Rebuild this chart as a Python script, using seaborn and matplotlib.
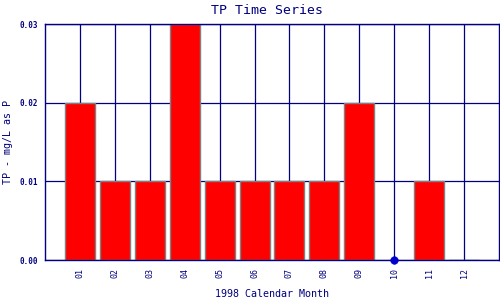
import numpy as np
import pandas as pd
import matplotlib
matplotlib.use("Agg")
import matplotlib.pyplot as plt
import seaborn as sns

months = ["01", "02", "03", "04", "05", "06", "07", "08", "09", "10", "11", "12"]
tp_values = [0.02, 0.01, 0.01, 0.03, 0.01, 0.01, 0.01, 0.01, 0.02, np.nan, 0.01, 0.0]
y_ticks = [0.00, 0.01, 0.02, 0.03]
y_tick_labels = ["0.00", "0.01", "0.02", "0.03"]

navy = "#000080"
sns.set_theme(style="white")
plt.rcParams["font.family"] = ["DejaVu Sans Mono", "DejaVu Sans"]

df = pd.DataFrame({"month": months, "tp": tp_values})

fig = plt.figure(figsize=(5, 3), dpi=100)
ax = fig.add_axes([0.09, 0.1333, 0.908, 0.7867])

for i in range(len(months)):
    ax.axvline(i, color=navy, lw=0.9, zorder=0)
for y in y_ticks:
    ax.axhline(y, color=navy, lw=0.9, zorder=0)

sns.barplot(data=df, x="month", y="tp", order=months, color="#ff0000",
            saturation=1, width=0.857, edgecolor="#808080", linewidth=1.0,
            errorbar=None, ax=ax, zorder=2)

missing = df[df["tp"].isna()].copy()
missing["zero"] = 0.0
sns.scatterplot(data=missing, x="month", y="zero", color="#0000cc", s=30,
                edgecolor="#0000cc", ax=ax, zorder=5, clip_on=False)

ax.set_xlim(-1, 12)
ax.set_ylim(0, 0.03)
ax.set_yticks(y_ticks)
ax.set_yticklabels(y_tick_labels, fontsize=5.5, color=navy, fontweight="bold")
ax.set_xticks(range(len(months)))
ax.set_xticklabels(months, fontsize=6, color=navy, rotation=90)
ax.tick_params(axis="both", length=0, pad=5)
ax.tick_params(axis="x", pad=6)
ax.set_xlabel("1998 Calendar Month", fontsize=7.2, color=navy, va="center")
ax.xaxis.set_label_coords(0.5, -0.144)
ax.set_ylabel("TP - mg/L as P", fontsize=7.2, color=navy, va="center")
ax.yaxis.set_label_coords(-0.081, 0.5)
ax.set_title("TP Time Series", fontsize=9.5, color=navy, x=0.489, pad=7)
for s in ax.spines.values():
    s.set_color(navy)
    s.set_linewidth(1.0)

fig.savefig("out.png", dpi=100)
